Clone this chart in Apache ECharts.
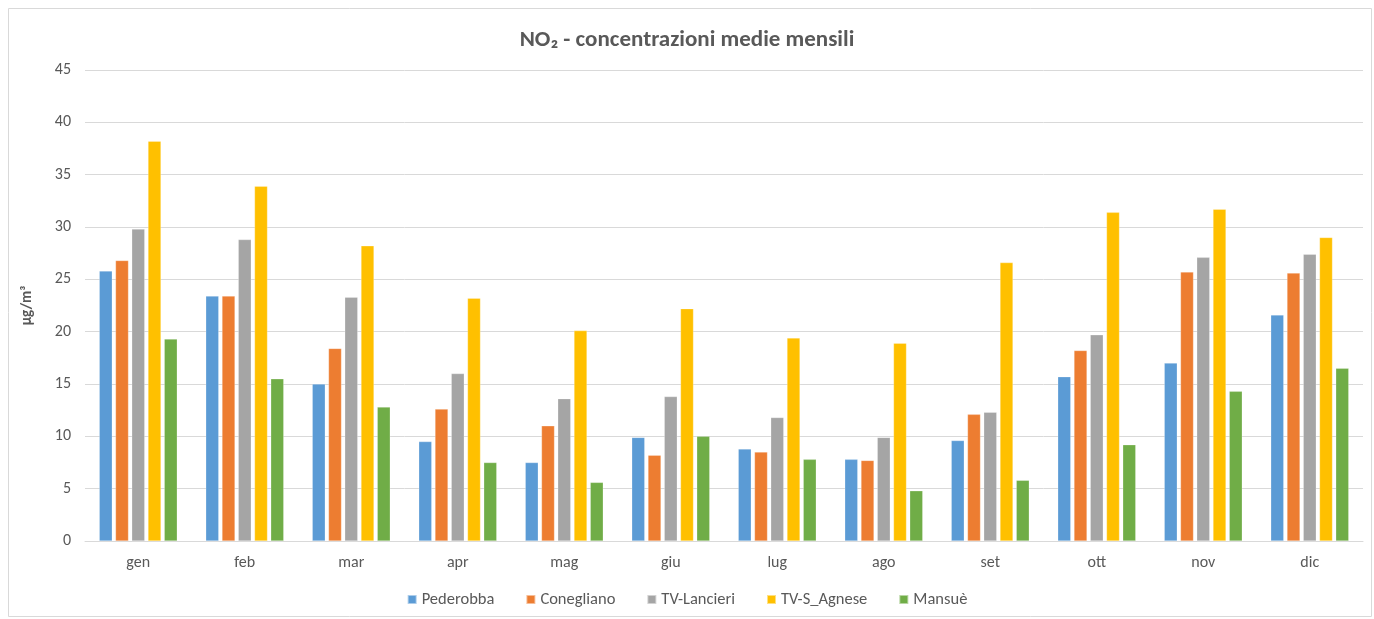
<!DOCTYPE html>
<html>
<head>
<meta charset="utf-8">
<script src="https://cdn.jsdelivr.net/npm/echarts@6/dist/echarts.min.js"></script>
<style>
  html, body { margin: 0; padding: 0; background: #fff; }
  #chart { width: 1374px; height: 619px; }
</style>
</head>
<body>
<div id="chart"></div>
<script>
const months = ['gen', 'feb', 'mar', 'apr', 'mag', 'giu', 'lug', 'ago', 'set', 'ott', 'nov', 'dic']

const pederobba = [25.8, 23.4, 15.0, 9.5, 7.5, 9.9, 8.8, 7.8, 9.6, 15.7, 17.0, 21.6]
const conegliano = [26.8, 23.4, 18.4, 12.6, 11.0, 8.2, 8.5, 7.7, 12.1, 18.2, 25.7, 25.6]
const tvLancieri = [29.8, 28.8, 23.3, 16.0, 13.6, 13.8, 11.8, 9.9, 12.3, 19.7, 27.1, 27.4]
const tvSAgnese = [38.2, 33.9, 28.2, 23.2, 20.1, 22.2, 19.4, 18.9, 26.6, 31.4, 31.7, 29.0]
const mansue = [19.3, 15.5, 12.8, 7.5, 5.6, 10.0, 7.8, 4.8, 5.8, 9.2, 14.3, 16.5]

const stations = [
  { name: 'Pederobba', data: pederobba, color: '#5b9bd5' },
  { name: 'Conegliano', data: conegliano, color: '#ed7d31' },
  { name: 'TV-Lancieri', data: tvLancieri, color: '#a5a5a5' },
  { name: 'TV-S_Agnese', data: tvSAgnese, color: '#ffc000' },
  { name: 'Mansuè', data: mansue, color: '#70ad47' }
]

const chart = echarts.init(document.getElementById('chart'))

const textColor = '#595959'
const font = 'Calibri, Carlito, Lato, sans-serif'

chart.setOption({
  animation: false,
  title: {
    text: 'NO₂ - concentrazioni medie mensili',
    left: 'center',
    top: 24,
    textStyle: { color: textColor, fontSize: 23, fontWeight: 'bold', fontFamily: font }
  },
  legend: {
    bottom: 6,
    left: 'center',
    itemWidth: 9,
    itemHeight: 9,
    itemGap: 31,
    icon: 'rect',
    textStyle: { color: textColor, fontSize: 16.5, fontFamily: font },
    data: stations.map(s => s.name)
  },
  grid: { left: 85, right: 11, top: 70, bottom: 78 },
  xAxis: {
    type: 'category',
    data: months,
    axisLine: { lineStyle: { color: '#d9d9d9' } },
    axisTick: { show: false },
    axisLabel: { color: textColor, fontSize: 16, fontFamily: font, margin: 14 }
  },
  yAxis: {
    type: 'value',
    min: 0,
    max: 45,
    interval: 5,
    name: 'µg/m³',
    nameLocation: 'middle',
    nameRotate: 90,
    nameGap: 50,
    nameTextStyle: { color: textColor, fontSize: 15, fontWeight: 'bold', fontFamily: font },
    axisLine: { show: false },
    axisTick: { show: false },
    axisLabel: { color: textColor, fontSize: 16, fontFamily: font, margin: 14 },
    splitLine: { lineStyle: { color: '#d9d9d9' } }
  },
  series: stations.map(s => ({
    name: s.name,
    type: 'bar',
    data: s.data,
    barWidth: 13,
    barGap: '25%',
    itemStyle: { color: s.color, borderColor: 'rgba(255,255,255,0.5)', borderWidth: 0.5 }
  }))
})

// outer frame like the original chart area
chart.setOption({
  graphic: [{
    type: 'rect',
    shape: { x: 8.5, y: 8.5, width: 1363, height: 608 },
    style: { fill: 'none', stroke: '#d9d9d9', lineWidth: 1 },
    silent: true
  }]
})
</script>
</body>
</html>
